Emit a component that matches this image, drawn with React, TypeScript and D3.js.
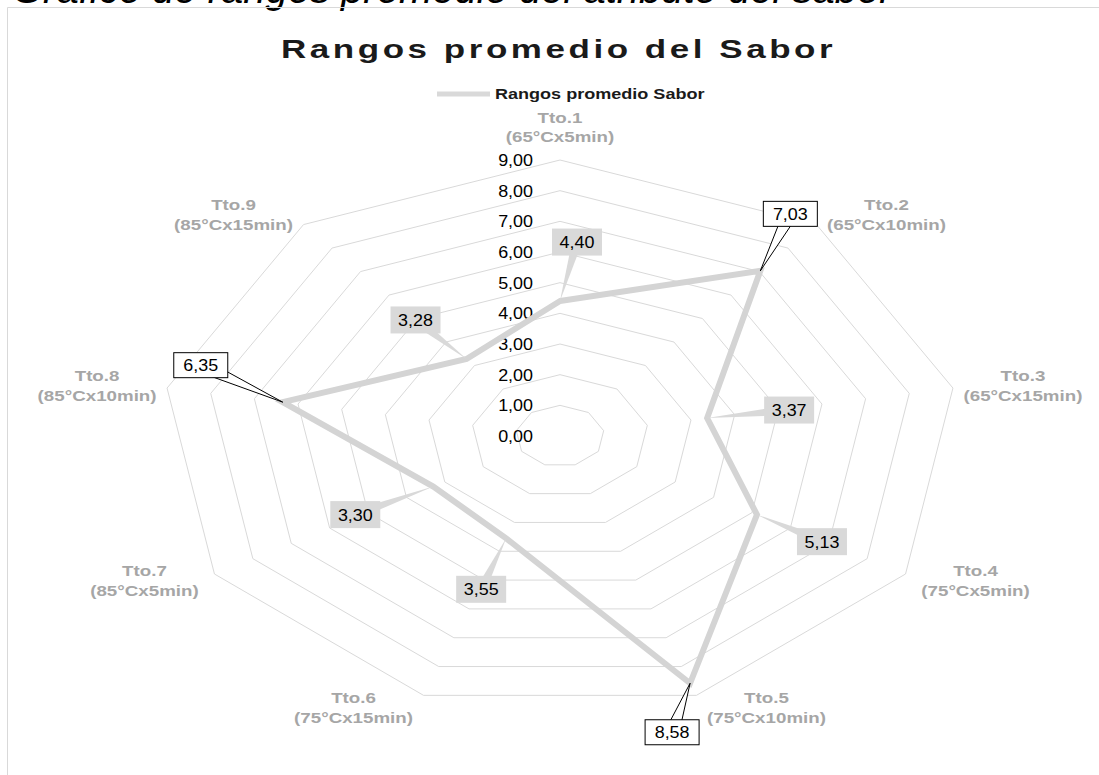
import React from "react";
import * as d3 from "d3";

const categories = ["Tto.1", "Tto.2", "Tto.3", "Tto.4", "Tto.5", "Tto.6", "Tto.7", "Tto.8", "Tto.9"];
const conditions = ["(65°Cx5min)", "(65°Cx10min)", "(65°Cx15min)", "(75°Cx5min)", "(75°Cx10min)", "(75°Cx15min)", "(85°Cx5min)", "(85°Cx10min)", "(85°Cx15min)"];
const saborValues = [4.40, 7.03, 3.37, 5.13, 8.58, 3.55, 3.30, 6.35, 3.28];
const tickValues = [0, 1, 2, 3, 4, 5, 6, 7, 8, 9];
const calloutLabels = [false, true, false, false, true, false, false, true, false];
const labelOffsets: [number, number][] = [
  [17, -59], [30, -57], [82, -8], [65, 27], [-18, 49], [-25, 51], [-78, 28], [-82, -37], [-51, -39],
];

const W = 1099;
const H = 775;
const cx = 560;
const cy = 436;
const rx = d3.scaleLinear().domain([0, 9]).range([0, 399]);
const ry = d3.scaleLinear().domain([0, 9]).range([0, 276]);
const angle = d3.scaleLinear().domain([0, categories.length]).range([0, 2 * Math.PI]);

const px = (v: number, i: number) => cx + rx(v) * Math.sin(angle(i));
const py = (v: number, i: number) => cy - ry(v) * Math.cos(angle(i));

const fmt = (v: number) => v.toFixed(2).replace(".", ",");

export default function App() {
  const rings = tickValues.filter((t) => t > 0).map((t) => {
    const pts = categories.map((_, i) => [px(t, i), py(t, i)] as [number, number]);
    return d3.line().curve(d3.curveLinearClosed)(pts) as string;
  });
  const seriesPath = d3
    .line<number>()
    .x((v, i) => px(v, i))
    .y((v, i) => py(v, i))
    .curve(d3.curveLinearClosed)(saborValues) as string;

  const font = "'Liberation Sans', Arial, sans-serif";

  return (
    <svg width={W} height={H} style={{ position: "absolute", left: 0, top: 0, background: "#fff" }}>
      {/* caption above the chart, cut off by the top edge as in the reference */}
      <text x={12} y={3} fontFamily={font} fontStyle="italic" fontSize={40} fill="#000">
        Gráfico de rangos promedio del atributo del sabor
      </text>
      {/* chart border */}
      <path d={`M7.5,${H} V7.5 H${W}`} fill="none" stroke="#d9d9d9" strokeWidth={1} />

      {/* title */}
      <g transform={`translate(281,58) scale(1.4,1)`}>
        <text x={0} y={0} fontFamily={font} fontWeight="bold" fontSize={25} fill="#1a1a1a" textLength={394} lengthAdjust="spacing">
          Rangos promedio del Sabor
        </text>
      </g>

      {/* legend */}
      <line x1={437} x2={490} y1={94} y2={94} stroke="#d9d9d9" strokeWidth={5} />
      <g transform={`translate(495,99) scale(1.29,1)`}>
        <text fontFamily={font} fontWeight="bold" fontSize={14} fill="#1a1a1a">Rangos promedio Sabor</text>
      </g>

      {/* grid rings */}
      {rings.map((d, k) => (
        <path key={k} d={d} fill="none" stroke="#d9d9d9" strokeWidth={1} />
      ))}

      {/* tick labels */}
      {tickValues.map((t) => (
        <g key={t} transform={`translate(533,${cy - ry(t) + 6}) scale(1.12,1)`}>
          <text textAnchor="end" fontFamily={font} fontSize={16} fill="#000">{fmt(t)}</text>
        </g>
      ))}

      {/* category labels */}
      {categories.map((c, i) => {
        const a = angle(i);
        const s = Math.sin(a);
        const co = Math.cos(a);
        const vx = px(9, i);
        const vy = py(9, i);
        let lx: number, b1: number, b2: number;
        if (Math.abs(s) < 0.1) {
          lx = vx;
          b1 = vy - 37;
          b2 = vy - 18;
        } else {
          lx = vx + Math.sign(s) * 70;
          const mid = vy - co * 13;
          b1 = mid - 5;
          b2 = mid + 15;
        }
        return (
          <g key={c} fontFamily={font} fontWeight="bold" fontSize={15} fill="#a6a6a6">
            <g transform={`translate(${lx},${b1}) scale(1.25,1)`}>
              <text textAnchor="middle">{c}</text>
            </g>
            <g transform={`translate(${lx},${b2}) scale(1.25,1)`}>
              <text textAnchor="middle">{conditions[i]}</text>
            </g>
          </g>
        );
      })}

      {/* series */}
      <path d={seriesPath} fill="none" stroke="#d4d4d4" strokeWidth={6} strokeLinejoin="miter" />

      {/* data labels */}
      {saborValues.map((v, i) => {
        const x0 = px(v, i);
        const y0 = py(v, i);
        const [dx, dy] = labelOffsets[i];
        const bx = x0 + dx;
        const by = y0 + dy;
        const callout = calloutLabels[i];
        const bw = callout ? 54 : 50;
        const bh = callout ? 25 : 27;
        const len = Math.hypot(dx, dy);
        const nx = -dy / len;
        const ny = dx / len;
        const hw = callout ? 7 : 5;
        const wedge = `M${bx + nx * hw},${by + ny * hw} L${x0},${y0} L${bx - nx * hw},${by - ny * hw} Z`;
        return (
          <g key={i}>
            <path d={wedge} fill={callout ? "#fff" : "#d9d9d9"} stroke={callout ? "#000" : "none"} strokeWidth={1} />
            <rect x={bx - bw / 2} y={by - bh / 2} width={bw} height={bh} fill={callout ? "#fff" : "#d9d9d9"} stroke={callout ? "#000" : "none"} strokeWidth={1} />
            <g transform={`translate(${bx},${by + 6}) scale(1.12,1)`}>
              <text textAnchor="middle" fontFamily={font} fontSize={16} fill="#000">{fmt(v)}</text>
            </g>
          </g>
        );
      })}
    </svg>
  );
}
